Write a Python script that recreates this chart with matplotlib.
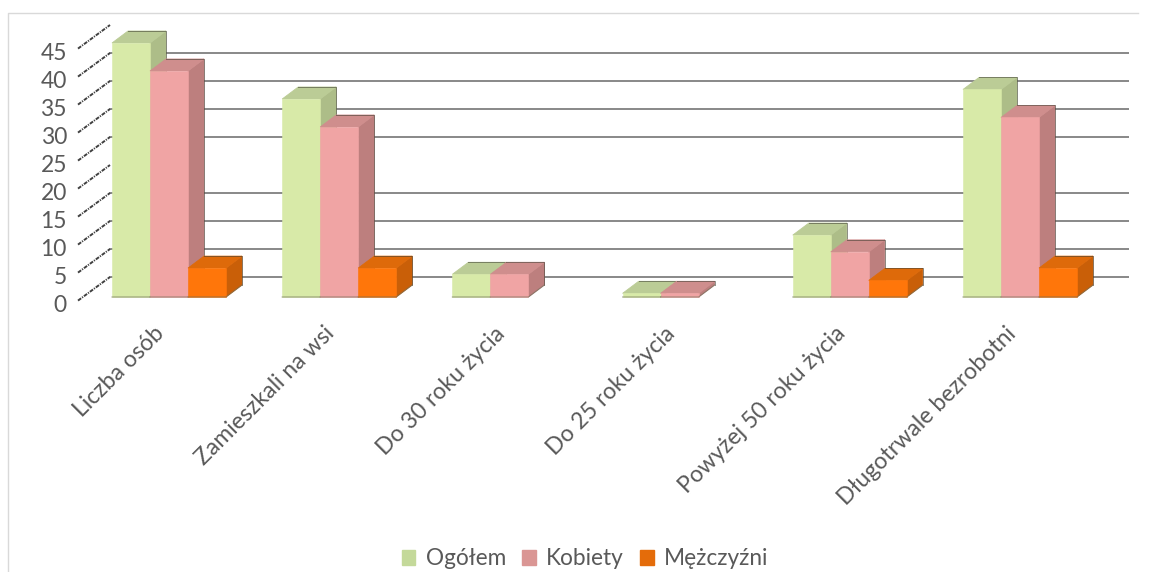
import numpy as np
from matplotlib import pyplot as plt
from matplotlib.patches import Patch, Polygon

plt.rcParams['font.family'] = ['Lato', 'DejaVu Sans']

categories = ["Liczba osób", "Zamieszkali na wsi", "Do 30 roku życia",
              "Do 25 roku życia", "Powyżej 50 roku życia", "Długotrwale bezrobotni"]
series_names = ["Ogółem", "Kobiety", "Mężczyźni"]
ogolem = [46, 36, 4.7, 1.3, 11.7, 37.7]
kobiety = [41, 31, 4.7, 1.3, 8.7, 32.7]
mezczyzni = [5.8, 5.8, 0, 0, 3.6, 5.8]
y_ticks = [0, 5, 10, 15, 20, 25, 30, 35, 40, 45]
grid_values = [0, 5, 10, 15, 25, 30, 35, 40]   # the line at 20 is missing in the original

# front, side, top colours for each series
front_colors = ["#D8EAA8", "#F0A4A4", "#FF760A"]
side_colors = ["#ADBD88", "#BD7F7E", "#C95F08"]
top_colors = ["#BBCC96", "#CF8E8D", "#DE6A0A"]
legend_colors = ["#C4D99A", "#DA9694", "#E46C0A"]
text_color = "#595959"

# pixel scales of the oblique projection
W, H = 1150, 572
px_x = 170.2
px_y = 5.6
x0_px = 169
y0_px = 300.6
ax_l, ax_r, ax_t, ax_b = 78, 1129, 20, 312

fig = plt.figure(figsize=(W / 100, H / 100), dpi=100)
ax = fig.add_axes([ax_l / W, 1 - ax_b / H, (ax_r - ax_l) / W, (ax_b - ax_t) / H])
ax.set_xlim((ax_l - x0_px) / px_x, (ax_r - x0_px) / px_x)
ax.set_ylim((y0_px - ax_b) / px_y, (y0_px - ax_t) / px_y)
ax.axis("off")

dx = 16 / px_x
dy = 12 / px_y
bar_w = 38 / px_x
floor = 3.6 / px_y
wall_dy = 23.6 / px_y
wall_left = (110 - x0_px) / px_x

# back wall lines
for v in grid_values:
    ax.plot([wall_left, ax.get_xlim()[1]], [v + wall_dy] * 2, color="#7F7F7F", lw=1.3, zorder=1)

# squiggly oblique ticks and the axis labels
for v in y_ticks:
    ax.plot([wall_left - 32 / px_x, wall_left], [v, v + wall_dy],
            color="#404040", lw=1.4, ls=(0, (2, 0.6, 0.6, 0.6)), zorder=1, clip_on=False)
    ax.annotate(str(v), (wall_left, v), xytext=(-31, -3.6), textcoords="offset points",
                ha="right", va="center", fontsize=16.5, color=text_color, annotation_clip=False)

# the bars, left to right so the nearer faces overlap correctly
x = np.arange(len(categories))
for i in x:
    for j, vals in enumerate([ogolem, kobiety, mezczyzni]):
        v = vals[i]
        if v == 0:
            continue
        left = i + (j - 1.5) * bar_w
        right = left + bar_w
        ax.add_patch(Polygon([(right, floor), (right + dx, floor + dy), (right + dx, v + dy), (right, v)],
                             fc=side_colors[j], ec=side_colors[j], lw=0.6, zorder=3))
        ax.add_patch(Polygon([(left, v), (left + dx, v + dy), (right + dx, v + dy), (right, v)],
                             fc=top_colors[j], ec=top_colors[j], lw=0.6, zorder=3))
        ax.bar(left, v - floor, bottom=floor, width=bar_w, align="edge", color=front_colors[j],
               edgecolor=front_colors[j], lw=0.4, zorder=3)
        # the dark shadow edge on the back of each box
        ax.plot([right + dx, right + dx, right + dx - bar_w], [floor + dy, v + dy, v + dy],
                color="#3A3A2E", lw=0.7, alpha=0.55, zorder=3)
        ax.plot([left, right, right + dx], [floor, floor, floor + dy], color="#6B6B55", lw=0.8, alpha=0.6, zorder=3)
    ax.annotate(categories[i], (i, 0), xytext=(-11, -16), textcoords="offset points", rotation=45,
                rotation_mode="anchor", ha="right", va="top", fontsize=16.6, color=text_color,
                annotation_clip=False)

# outer frame, only top and left are visible
fig.add_artist(plt.Line2D([8 / W, 8 / W, 1138 / W], [0, 1 - 13 / H, 1 - 13 / H], color="#D9D9D9", lw=1))

handles = [Patch(fc=c, ec=c) for c in legend_colors]
fig.legend(handles, series_names, loc="lower center", bbox_to_anchor=(0.5087, -0.031), ncol=3, frameon=False,
           fontsize=16.3, labelcolor=text_color, handlelength=0.6, handleheight=0.6,
           handletextpad=0.45, columnspacing=0.72)

fig.savefig("out.png", dpi=100)
